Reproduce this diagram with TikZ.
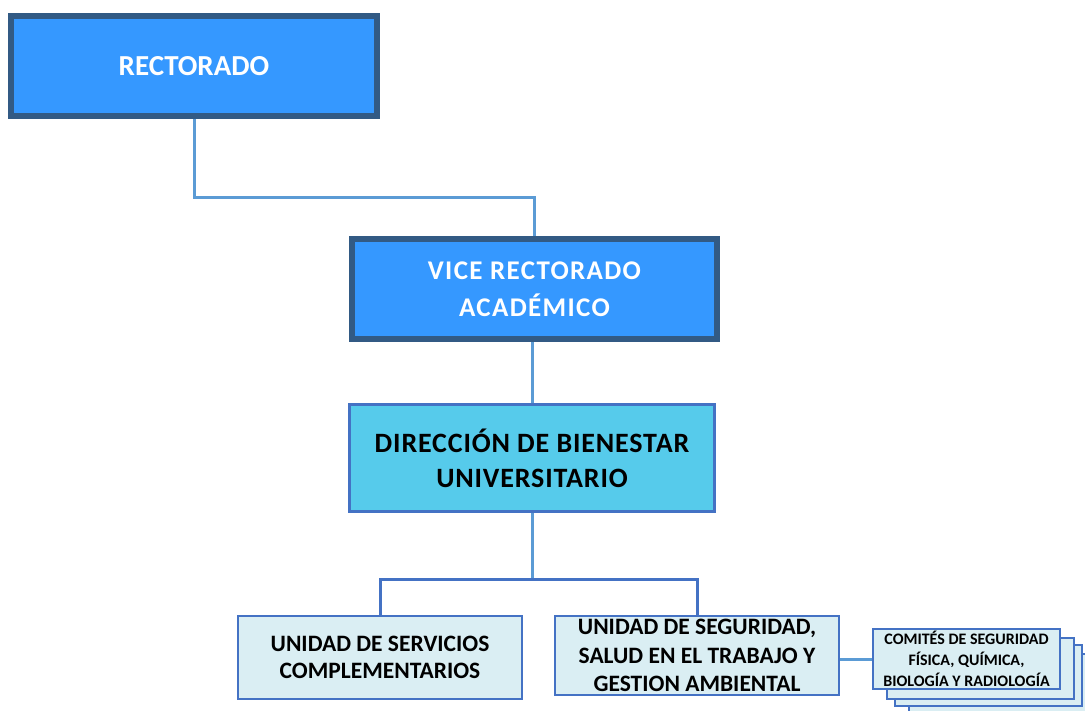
\documentclass[tikz,border=0pt]{standalone}
\usepackage{fontspec}
\setmainfont{Carlito}
\usetikzlibrary{backgrounds}
\definecolor{darkb}{RGB}{50,90,132}
\definecolor{topfill}{RGB}{53,152,255}
\definecolor{cyanfill}{RGB}{86,203,235}
\definecolor{midb}{RGB}{68,114,196}
\definecolor{lightfill}{RGB}{218,238,243}
\definecolor{connlight}{RGB}{91,155,213}
\tikzset{
  topbox/.style={draw=darkb, line width=6pt, fill=topfill, text=white, inner sep=0pt, align=center},
  dirbox/.style={draw=midb, line width=3pt, fill=cyanfill, text=black, inner sep=0pt, align=center},
  unitbox/.style={draw=midb, line width=2pt, fill=lightfill, text=black, inner sep=0pt, align=center},
  conna/.style={draw=connlight, line width=3pt},
  connb/.style={draw=midb, line width=3pt},
}
\begin{document}
\begin{tikzpicture}[x=1pt,y=-1pt]
\useasboundingbox (0,0) rectangle (1085,711);
\clip (0,0) rectangle (1085,711);

\node[topbox, minimum width=366pt, minimum height=100pt,
      font=\bfseries\fontsize{29}{35}\selectfont] (rect) at (194,66) {RECTORADO};
\node[topbox, minimum width=365pt, minimum height=100pt,
      font=\bfseries\fontsize{27}{37}\selectfont\addfontfeature{LetterSpace=5}] (vice) at (534.5,289) {VICE RECTORADO\\ACADÉMICO};
\node[dirbox, minimum width=365pt, minimum height=107pt,
      font=\bfseries\fontsize{28}{35}\selectfont\addfontfeature{LetterSpace=3}] (dir) at (532,458) {DIRECCIÓN DE BIENESTAR\\UNIVERSITARIO};
\node[unitbox, minimum width=284pt, minimum height=83pt,
      font=\bfseries\fontsize{23.5}{27.5}\selectfont] (serv) at (380,657.5) {UNIDAD DE SERVICIOS\\COMPLEMENTARIOS};
\node[unitbox, minimum width=284pt, minimum height=79pt,
      font=\bfseries\fontsize{23.5}{28.5}\selectfont] (seg) at (697,655.5) {UNIDAD DE SEGURIDAD,\\SALUD EN EL TRABAJO Y\\GESTION AMBIENTAL};

\node[unitbox, minimum width=187pt, minimum height=61pt] (c4) at (1002.5,684.5) {};
\node[unitbox, minimum width=187pt, minimum height=61pt] (c3) at (988.5,675.5) {};
\node[unitbox, minimum width=187pt, minimum height=61pt] (c2) at (980.5,668.5) {};
\node[unitbox, minimum width=187pt, minimum height=60pt,
      font=\bfseries\fontsize{16}{21}\selectfont] (c1) at (966.5,659) {COMITÉS DE SEGURIDAD\\FÍSICA, QUÍMICA,\\BIOLOGÍA Y RADIOLOGÍA};

\coordinate (bus) at (530,579);
\begin{pgfonlayer}{background}
  \draw[conna] (rect.south) -- ++(0,79) -| (vice.north);
  \draw[conna] (vice.south -| dir.north) -- (dir.north);
  \draw[conna] (dir.south) -- (dir.south |- bus);
  \draw[connb] (serv.north) |- (bus) -| (seg.north);
  \draw[conna] (seg.east |- c1.west) -- (c1.west);
\end{pgfonlayer}
\end{tikzpicture}
\end{document}
